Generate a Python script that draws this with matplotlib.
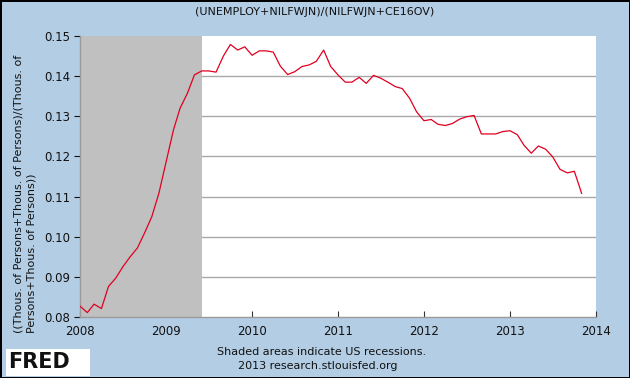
import matplotlib
matplotlib.use('Agg')
import matplotlib.pyplot as plt
import matplotlib.dates as mdates
import numpy as np
import pandas as pd
from matplotlib.patches import Rectangle

# monthly ratio, Jan 2008 - Nov 2013
months = pd.date_range('2008-01-01', '2013-11-01', freq='MS')
ratio = [
    0.0827, 0.0811, 0.0832, 0.0821, 0.0876, 0.0897, 0.0925, 0.0950, 0.0972, 0.1009, 0.1050, 0.1108,
    0.1187, 0.1266, 0.1320, 0.1357, 0.1403, 0.1413, 0.1413, 0.1410, 0.1450, 0.1479, 0.1465, 0.1473,
    0.1452, 0.1463, 0.1463, 0.1460, 0.1425, 0.1404, 0.1411, 0.1424, 0.1428, 0.1437, 0.1465, 0.1424,
    0.1403, 0.1385, 0.1385, 0.1397, 0.1382, 0.1402, 0.1395, 0.1385, 0.1374, 0.1369, 0.1345, 0.1311,
    0.1289, 0.1292, 0.1280, 0.1277, 0.1282, 0.1293, 0.1299, 0.1302, 0.1256, 0.1256, 0.1256, 0.1262,
    0.1264, 0.1254, 0.1228, 0.1208, 0.1226, 0.1218, 0.1199, 0.1168, 0.1159, 0.1163, 0.1108,
]
recession = ('2008-01-01', '2009-06-01')
years = [2008, 2009, 2010, 2011, 2012, 2013, 2014]
yticks = [0.08, 0.09, 0.10, 0.11, 0.12, 0.13, 0.14, 0.15]

W, H = 630, 378
bg = '#b3cde4'
fig = plt.figure(figsize=(W / 100, H / 100), dpi=100, facecolor=bg,
                 edgecolor='black', linewidth=2)
ax = fig.add_axes([80 / W, 1 - 317 / H, 516 / W, 281 / H])
ax.set_facecolor('white')

for y in yticks[1:-1]:
    ax.axhline(y, color='#a8a8a8', lw=1, zorder=1)
# shading covers the grid lines, as on FRED
ax.axvspan(pd.Timestamp(recession[0]), pd.Timestamp(recession[1]),
           color='#c0c0c0', lw=0, zorder=2)

ax.plot(months, ratio, color='#e00020', lw=0.9, zorder=3)

ax.set_xlim(pd.Timestamp('2008-01-01'), pd.Timestamp('2014-01-01'))
ax.set_ylim(0.08, 0.15)
ax.set_xticks([pd.Timestamp(f'{y}-01-01') for y in years])
ax.xaxis.set_major_formatter(mdates.DateFormatter('%Y'))
ax.set_yticks(yticks)
ax.set_yticklabels([f'{v:.2f}' for v in yticks])
ax.tick_params(axis='x', direction='in', length=4, color='#333333',
               labelsize=8.5, pad=6, labelcolor='#111111')
ax.tick_params(axis='y', direction='out', length=4, color='#111111',
               labelsize=8.5, pad=3, labelcolor='#111111')

for s in ['left', 'bottom']:
    ax.spines[s].set_color('#9a9a9a')
    ax.spines[s].set_linewidth(1)
ax.spines['top'].set_visible(False)
ax.spines['right'].set_visible(False)

fig.text(0.5, 1 - 12 / H, '(UNEMPLOY+NILFWJN)/(NILFWJN+CE16OV)',
         ha='center', va='center', fontsize=8, color='#111111')
fig.text(25 / W, 1 - 333 / H, '((Thous. of Persons+Thous. of Persons)/(Thous. of\nPersons+Thous. of Persons))',
         rotation=90, ha='center', va='bottom', multialignment='left',
         fontsize=8, color='#111111', linespacing=1.3)
fig.text(322 / W, 1 - 352 / H, 'Shaded areas indicate US recessions.',
         ha='center', va='center', fontsize=8, color='#111111')
fig.text(318 / W, 1 - 366 / H, '2013 research.stlouisfed.org',
         ha='center', va='center', fontsize=8, color='#111111')

# FRED logo
fig.patches.append(Rectangle((6 / W, 1 - 376 / H), 84 / W, 27 / H,
                             transform=fig.transFigure, facecolor='white',
                             edgecolor='none'))
fig.text(8 / W, 1 - 362 / H, 'FRED', ha='left', va='center', fontsize=15,
         fontweight='heavy', color='#111111')

fig.savefig('out.png', dpi=100, facecolor=fig.get_facecolor(),
            edgecolor=fig.get_edgecolor())
